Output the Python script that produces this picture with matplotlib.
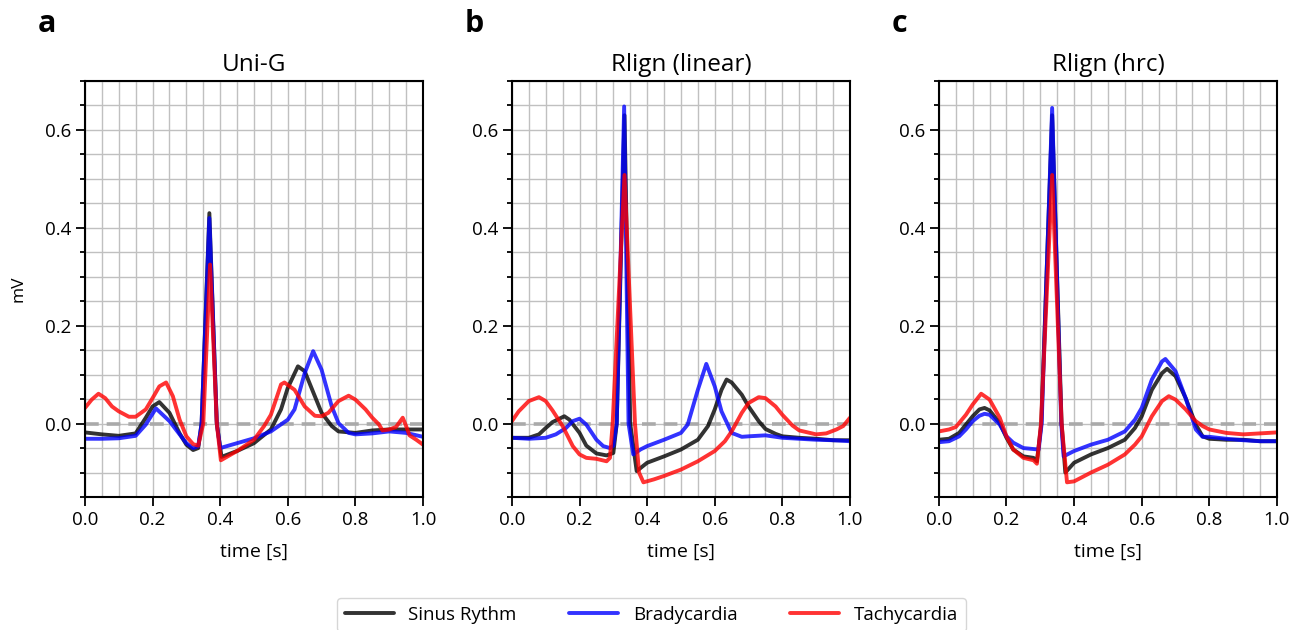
import matplotlib
matplotlib.use("Agg")
import matplotlib.pyplot as plt
from matplotlib.ticker import MultipleLocator

plt.rcParams["font.family"] = ["Open Sans", "DejaVu Sans"]

titles = ["Uni-G", "Rlign (linear)", "Rlign (hrc)"]
letters = ["a", "b", "c"]
labels = ["Sinus Rythm", "Bradycardia", "Tachycardia"]
colors = ["black", "blue", "red"]

# panel a: Uni-G
t_uni_sr = [0, 0.05, 0.1, 0.15, 0.18, 0.2, 0.22, 0.25, 0.28, 0.3, 0.32, 0.335, 0.345,
            0.368, 0.39, 0.404, 0.45, 0.5, 0.55, 0.58, 0.6, 0.63, 0.65, 0.68, 0.7, 0.73,
            0.75, 0.8, 0.85, 0.9, 0.95, 1.0]
v_uni_sr = [-0.018, -0.022, -0.025, -0.02, 0.012, 0.035, 0.044, 0.022, -0.02, -0.043,
            -0.054, -0.05, 0.0, 0.43, 0.0, -0.068, -0.056, -0.04, -0.012, 0.029, 0.073,
            0.117, 0.107, 0.056, 0.022, -0.005, -0.016, -0.019, -0.014, -0.012, -0.012,
            -0.012]
t_uni_br = [0, 0.05, 0.1, 0.15, 0.18, 0.21, 0.25, 0.28, 0.3, 0.32, 0.335, 0.345, 0.368,
            0.39, 0.40, 0.45, 0.5, 0.55, 0.6, 0.62, 0.65, 0.675, 0.7, 0.73, 0.75, 0.78,
            0.8, 0.85, 0.9, 0.95, 1.0]
v_uni_br = [-0.031, -0.031, -0.03, -0.025, -0.002, 0.031, 0.005, -0.022, -0.04, -0.05,
            -0.046, 0.0, 0.42, 0.0, -0.05, -0.04, -0.03, -0.016, 0.008, 0.029, 0.103,
            0.148, 0.11, 0.035, 0.001, -0.019, -0.022, -0.02, -0.016, -0.019, -0.027]
t_uni_ta = [0, 0.02, 0.04, 0.06, 0.08, 0.1, 0.13, 0.15, 0.18, 0.2, 0.22, 0.24, 0.26,
            0.28, 0.3, 0.32, 0.335, 0.35, 0.37, 0.39, 0.402, 0.45, 0.5, 0.53, 0.55, 0.58,
            0.59, 0.62, 0.65, 0.68, 0.7, 0.72, 0.75, 0.78, 0.8, 0.83, 0.85, 0.87, 0.88,
            0.9, 0.92, 0.94, 0.95, 0.96, 0.98, 1.0]
v_uni_ta = [0.032, 0.049, 0.061, 0.052, 0.035, 0.025, 0.014, 0.014, 0.029, 0.052, 0.076,
            0.084, 0.056, 0.008, -0.026, -0.042, -0.045, 0.0, 0.325, 0.0, -0.075, -0.056,
            -0.033, -0.005, 0.018, 0.08, 0.084, 0.069, 0.035, 0.016, 0.015, 0.022, 0.046,
            0.057, 0.049, 0.029, 0.012, -0.002, -0.014, -0.012, -0.007, 0.012, -0.005,
            -0.024, -0.033, -0.043]

# panel b: Rlign (linear)
t_lin_sr = [0, 0.05, 0.08, 0.1, 0.12, 0.155, 0.17, 0.2, 0.22, 0.25, 0.28, 0.3, 0.31,
            0.333, 0.35, 0.369, 0.4, 0.45, 0.5, 0.55, 0.58, 0.6, 0.62, 0.635, 0.65, 0.68,
            0.7, 0.73, 0.75, 0.78, 0.8, 0.85, 0.9, 0.95, 1.0]
v_lin_sr = [-0.029, -0.029, -0.022, -0.009, 0.003, 0.015, 0.008, -0.019, -0.045, -0.061,
            -0.065, -0.06, 0.0, 0.63, 0.0, -0.097, -0.08, -0.067, -0.053, -0.033, -0.005,
            0.029, 0.069, 0.09, 0.084, 0.059, 0.035, 0.005, -0.011, -0.021, -0.026,
            -0.029, -0.031, -0.034, -0.034]
t_lin_br = [0, 0.05, 0.1, 0.13, 0.16, 0.18, 0.2, 0.22, 0.25, 0.27, 0.29, 0.3, 0.31,
            0.332, 0.345, 0.359, 0.38, 0.4, 0.45, 0.5, 0.52, 0.55, 0.575, 0.6, 0.62,
            0.65, 0.68, 0.7, 0.75, 0.8, 0.85, 0.9, 0.95, 1.0]
v_lin_br = [-0.029, -0.031, -0.029, -0.022, -0.009, 0.005, 0.01, -0.002, -0.033, -0.046,
            -0.05, -0.045, 0.0, 0.648, 0.0, -0.063, -0.053, -0.046, -0.033, -0.019,
            -0.002, 0.069, 0.122, 0.076, 0.025, -0.019, -0.027, -0.026, -0.024, -0.029,
            -0.031, -0.033, -0.034, -0.036]
t_lin_ta = [0, 0.02, 0.05, 0.08, 0.1, 0.12, 0.15, 0.18, 0.2, 0.22, 0.25, 0.28, 0.29,
            0.298, 0.333, 0.364, 0.376, 0.389, 0.42, 0.45, 0.5, 0.55, 0.6, 0.63, 0.65,
            0.68, 0.7, 0.73, 0.75, 0.78, 0.8, 0.83, 0.85, 0.9, 0.93, 0.96, 0.98, 1.0]
v_lin_ta = [0.005, 0.025, 0.046, 0.054, 0.046, 0.027, -0.005, -0.046, -0.063, -0.07,
            -0.072, -0.077, -0.07, 0.0, 0.508, 0.0, -0.1, -0.12, -0.114, -0.107, -0.094,
            -0.077, -0.056, -0.036, -0.016, 0.022, 0.042, 0.054, 0.052, 0.035, 0.018,
            -0.004, -0.014, -0.022, -0.02, -0.012, -0.005, 0.012]

# panel c: Rlign (hrc)
t_hrc_sr = [0, 0.03, 0.06, 0.08, 0.1, 0.12, 0.135, 0.15, 0.18, 0.2, 0.22, 0.25, 0.28,
            0.29, 0.303, 0.335, 0.363, 0.374, 0.4, 0.45, 0.5, 0.55, 0.58, 0.6, 0.63,
            0.66, 0.675, 0.7, 0.73, 0.76, 0.78, 0.8, 0.85, 0.9, 0.95, 1.0]
v_hrc_sr = [-0.033, -0.031, -0.019, -0.002, 0.015, 0.029, 0.032, 0.027, 0.001, -0.029,
            -0.053, -0.067, -0.07, -0.077, 0.0, 0.63, 0.0, -0.1, -0.08, -0.063, -0.05,
            -0.033, -0.009, 0.015, 0.069, 0.103, 0.112, 0.097, 0.052, -0.002, -0.026,
            -0.031, -0.033, -0.033, -0.036, -0.036]
t_hrc_br = [0, 0.03, 0.06, 0.08, 0.1, 0.12, 0.135, 0.15, 0.18, 0.2, 0.22, 0.25, 0.28,
            0.295, 0.304, 0.335, 0.362, 0.369, 0.38, 0.4, 0.45, 0.5, 0.55, 0.58, 0.6,
            0.63, 0.66, 0.67, 0.7, 0.73, 0.76, 0.78, 0.8, 0.85, 0.9, 0.95, 1.0]
v_hrc_br = [-0.038, -0.036, -0.026, -0.012, 0.005, 0.016, 0.02, 0.018, -0.002, -0.026,
            -0.039, -0.05, -0.052, -0.053, 0.0, 0.645, 0.0, -0.067, -0.063, -0.056,
            -0.043, -0.033, -0.016, 0.008, 0.032, 0.09, 0.127, 0.132, 0.107, 0.052,
            -0.012, -0.027, -0.027, -0.031, -0.034, -0.036, -0.036]
t_hrc_ta = [0, 0.03, 0.05, 0.08, 0.1, 0.125, 0.15, 0.18, 0.2, 0.22, 0.25, 0.28, 0.29,
            0.302, 0.335, 0.363, 0.379, 0.4, 0.45, 0.5, 0.55, 0.58, 0.6, 0.63, 0.66,
            0.68, 0.7, 0.73, 0.76, 0.78, 0.8, 0.85, 0.9, 0.95, 1.0]
v_hrc_ta = [-0.016, -0.012, -0.007, 0.018, 0.039, 0.061, 0.049, 0.012, -0.026, -0.053,
            -0.07, -0.075, -0.082, 0.0, 0.508, 0.0, -0.12, -0.118, -0.1, -0.084, -0.063,
            -0.043, -0.026, 0.015, 0.046, 0.056, 0.049, 0.029, 0.005, -0.005, -0.012,
            -0.019, -0.022, -0.02, -0.018]

panels = [
    [(t_uni_sr, v_uni_sr), (t_uni_br, v_uni_br), (t_uni_ta, v_uni_ta)],
    [(t_lin_sr, v_lin_sr), (t_lin_br, v_lin_br), (t_lin_ta, v_lin_ta)],
    [(t_hrc_sr, v_hrc_sr), (t_hrc_br, v_hrc_br), (t_hrc_ta, v_hrc_ta)],
]

fig, axes = plt.subplots(1, 3, figsize=(13.03, 6.30), dpi=100)
fig.subplots_adjust(left=0.0652, right=0.980, bottom=0.2111, top=0.8714, wspace=0.263)

for i, ax in enumerate(axes):
    ax.axhline(0, color="#aaaaaa", lw=2.6, ls=(0, (3.8, 2.2)), zorder=1)
    for (t, v), c, lab in zip(panels[i], colors, labels):
        ax.plot(t, v, color=c, alpha=0.8, lw=2.8, label=lab, zorder=2,
                solid_joinstyle="round", solid_capstyle="round")
    ax.set_xlim(0, 1)
    ax.set_ylim(-0.15, 0.7)
    ax.xaxis.set_major_locator(MultipleLocator(0.2))
    ax.xaxis.set_minor_locator(MultipleLocator(0.05))
    ax.yaxis.set_major_locator(MultipleLocator(0.2))
    ax.yaxis.set_minor_locator(MultipleLocator(0.05))
    ax.grid(which="both", color="#c0c0c0", lw=1.0, zorder=0)
    ax.set_axisbelow(True)
    ax.tick_params(which="major", length=6.5, width=1.3, labelsize=13.5)
    ax.tick_params(axis="y", which="minor", length=3.8, width=1.3)
    ax.tick_params(axis="x", which="minor", length=0)
    for s in ax.spines.values():
        s.set_linewidth(1.5)
    ax.set_title(titles[i], fontsize=17.5, pad=7)
    ax.set_xlabel("time [s]", fontsize=14, labelpad=10)
    x0 = ax.get_position().x0
    fig.text(x0 - 0.036, 1 - 32 / 630, letters[i], fontsize=22, fontweight="bold",
             va="baseline")

axes[0].set_ylabel("mV", fontsize=12.5, labelpad=13)

handles, labs = axes[0].get_legend_handles_labels()
fig.legend(handles, labs, loc="upper center", bbox_to_anchor=(0.5, 1 - 589 / 630),
           ncol=3, fontsize=13.5, handlelength=2.6, columnspacing=2.8, frameon=True,
           edgecolor="#cccccc")

fig.savefig("out.png", dpi=100)
